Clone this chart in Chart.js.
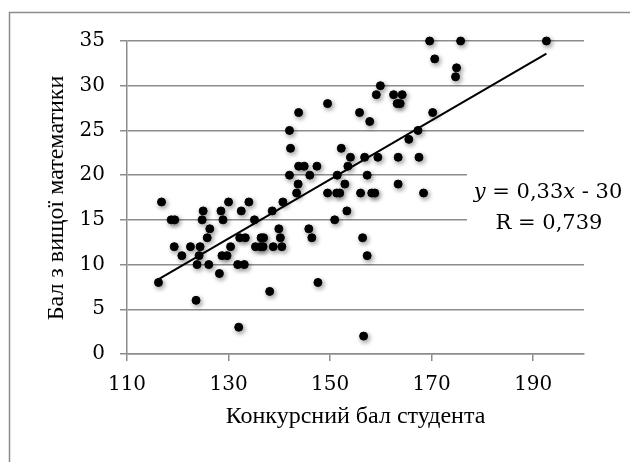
<!DOCTYPE html>
<html>
<head>
<meta charset="utf-8">
<script src="https://cdn.jsdelivr.net/npm/chart.js@4/dist/chart.umd.min.js"></script>
<style>
  html, body { margin: 0; padding: 0; background: #fff; }
  #wrap { width: 630px; height: 462px; }
</style>
</head>
<body>
<div id="wrap"><canvas id="chart" width="630" height="462"></canvas></div>
<script>
// Конкурсний бал студента (x) та бал з вищої математики (y)
const scoreX = [
  116.2, 116.8, 118.7, 119.4, 119.3, 120.8, 122.5, 123.6, 123.8, 124.2,
  124.4, 124.8, 125.0, 125.8, 126.1, 126.3, 128.2, 128.5, 128.7, 128.9,
  129.7, 130.0, 130.4, 131.8, 133.1, 132.0, 132.5, 132.2, 133.3, 134.0,
  135.1, 135.3, 136.3, 136.8, 136.4, 136.9, 138.1, 138.6, 138.8, 139.9,
  140.2, 140.5, 140.7, 142.0, 142.2, 142.0, 143.4, 143.7, 143.8, 143.8,
  144.9, 145.8, 146.0, 146.4, 147.4, 147.6, 149.5, 149.5, 150.9, 151.3,
  151.4, 151.9, 152.2, 152.9, 153.3, 153.5, 154.0, 155.8, 156.0, 156.4,
  156.6, 156.8, 157.3, 157.3, 157.8, 158.2, 158.8, 159.1, 159.4, 159.9,
  162.5, 163.2, 163.8, 163.4, 163.4, 164.2, 165.5, 167.3, 167.5, 168.4,
  169.6, 170.2, 170.6, 174.7, 174.9, 175.7, 192.6
];
const mathScore = [
  8, 17, 15, 15, 12, 11, 12, 6, 10, 11,
  12, 15, 16, 13, 10, 14, 9, 16, 11, 15,
  11, 17, 12, 10, 10, 3, 16, 13, 13, 17,
  15, 12, 12, 12, 13, 13, 7, 16, 12, 14,
  13, 12, 17, 25, 23, 20, 18, 19, 27, 21,
  21, 14, 20, 13, 21, 8, 28, 18, 15, 18,
  20, 18, 23, 19, 16, 21, 22, 27, 18, 13,
  2, 22, 20, 11, 26, 18, 18, 29, 22, 30,
  29, 28, 28, 22, 19, 29, 24, 25, 22, 18,
  35, 27, 33, 31, 32, 35, 35
];

// лінія тренду (кінці)
const trendX = [116.0, 192.6];
const trendY = [8.3, 33.6];
const equationText = ['y = 0,33x - 30', 'R = 0,739'];

const xTicks = [110, 130, 150, 170, 190];
const yTicks = [0, 5, 10, 15, 20, 25, 30, 35];
const xTitle = 'Конкурсний бал студента';
const yTitle = 'Бал з вищої математики';

const gridColor = '#8c8c8c';
const tickFont = { family: 'DejaVu Serif', size: 20 };

const points = scoreX.map((x, i) => ({ x: x, y: mathScore[i] }));
const trend = trendX.map((x, i) => ({ x: x, y: trendY[i] }));

// тінь під точками як в Excel
const shadowPlugin = {
  id: 'shadow',
  beforeDatasetDraw(chart, args) {
    if (args.index !== 1) return;
    const ctx = chart.ctx;
    ctx.save();
    ctx.shadowColor = 'rgba(0,0,0,0.4)';
    ctx.shadowBlur = 5;
    ctx.shadowOffsetX = 1.5;
    ctx.shadowOffsetY = 2;
  },
  afterDatasetDraw(chart, args) {
    if (args.index !== 1) return;
    chart.ctx.restore();
  }
};

// рамка, підписи осей і рівняння
const extrasPlugin = {
  id: 'extras',
  beforeDatasetsDraw(chart) {
    const ctx = chart.ctx;
    ctx.save();
    // біле поле під рівнянням перекриває сітку
    ctx.fillStyle = '#fff';
    ctx.fillRect(467, 168, 163, 72);

    ctx.fillStyle = '#000';
    ctx.textBaseline = 'middle';
    // перший рядок: y і x курсивом
    const parts = [
      ['y', true], [' = 0,33', false], ['x', true], [' - 30', false]
    ];
    const fonts = {
      true: 'italic 21px "DejaVu Serif"',
      false: '21px "DejaVu Serif"'
    };
    let total = 0;
    parts.forEach(p => { ctx.font = fonts[p[1]]; total += ctx.measureText(p[0]).width; });
    let x = 548 - total / 2;
    ctx.textAlign = 'left';
    parts.forEach(p => {
      ctx.font = fonts[p[1]];
      ctx.fillText(p[0], x, 193);
      x += ctx.measureText(p[0]).width;
    });
    ctx.font = fonts[false];
    ctx.textAlign = 'center';
    ctx.fillText(equationText[1], 549, 224);
    ctx.restore();
  },
  afterDraw(chart) {
    const ctx = chart.ctx;
    ctx.save();
    ctx.strokeStyle = gridColor;
    ctx.lineWidth = 1.5;
    ctx.beginPath();
    ctx.moveTo(9.5, 470);
    ctx.lineTo(9.5, 12.5);
    ctx.lineTo(640, 12.5);
    ctx.stroke();

    ctx.fillStyle = '#000';
    ctx.font = '24px "Liberation Serif"';
    ctx.textAlign = 'center';
    ctx.textBaseline = 'middle';
    const a = chart.chartArea;
    ctx.fillText(xTitle, (a.left + a.right) / 2, 417);
    ctx.translate(57, 198);
    ctx.rotate(-Math.PI / 2);
    ctx.fillText(yTitle, 0, 0);
    ctx.restore();
  }
};

new Chart(document.getElementById('chart'), {
  type: 'scatter',
  data: {
    datasets: [
      {
        type: 'line',
        data: trend,
        borderColor: '#000',
        borderWidth: 2,
        pointRadius: 0,
        fill: false
      },
      {
        data: points,
        backgroundColor: '#000',
        borderColor: '#000',
        pointRadius: 4,
        pointHoverRadius: 4,
        clip: false
      }
    ]
  },
  options: {
    responsive: false,
    animation: false,
    events: [],
    layout: { padding: { left: 0, top: 41, right: 46, bottom: 0 } },
    plugins: { legend: { display: false }, tooltip: { enabled: false } },
    scales: {
      x: {
        type: 'linear',
        min: 110,
        max: 200,
        afterBuildTicks: s => { s.ticks = xTicks.map(v => ({ value: v })); },
        afterFit: s => { s.height = 108; },
        grid: { drawOnChartArea: false, drawTicks: true, tickLength: 7, color: gridColor, lineWidth: 1.5 },
        border: { display: true, color: gridColor, width: 1.5 },
        ticks: { color: '#000', font: tickFont, padding: 12, maxRotation: 0 }
      },
      y: {
        type: 'linear',
        min: 0,
        max: 35,
        afterBuildTicks: s => { s.ticks = yTicks.map(v => ({ value: v })); },
        afterFit: s => { s.width = 127; },
        grid: { drawOnChartArea: true, drawTicks: true, tickLength: 7, color: gridColor, lineWidth: 1.5 },
        border: { display: true, color: gridColor, width: 1.5 },
        ticks: { color: '#000', font: tickFont, padding: 15 }
      }
    }
  },
  plugins: [shadowPlugin, extrasPlugin]
});
</script>
</body>
</html>
